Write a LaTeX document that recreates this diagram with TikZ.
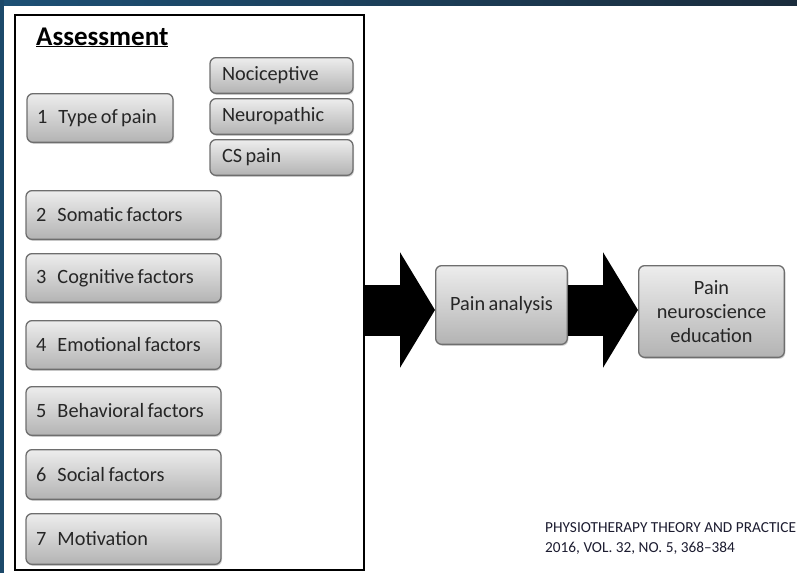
\documentclass[tikz,border=0pt]{standalone}
\usepackage{fontspec}
\setmainfont{Carlito}
\usetikzlibrary{positioning, shadows, arrows.meta}

\definecolor{barnavy}{HTML}{1D5075}
\definecolor{bardark}{HTML}{1A2C3C}
\definecolor{boxtop}{HTML}{EDEDED}
\definecolor{boxbot}{HTML}{B3B3B3}
\definecolor{boxline}{HTML}{6E6E6E}
\definecolor{foottext}{HTML}{1C1C30}

\newcommand{\numgap}{\hspace{0.55em}}
\newcommand{\tightwords}{\spaceskip=0.17em\relax}

\tikzset{
  pbox/.style={draw=boxline, line width=1.3pt, rounded corners=6pt,
    top color=boxtop, bottom color=boxbot, text=black!85,
    drop shadow={shadow xshift=1pt, shadow yshift=-1.5pt, opacity=0.35},
    font=\fontsize{20.3}{24}\selectfont, align=flush left, inner xsep=10pt,
    execute at begin node=\tightwords},
  factor/.style={pbox, text width=175pt, minimum height=48.7pt},
  subtype/.style={pbox, text width=119pt, minimum height=35.7pt, inner xsep=12pt},
  bigarrow/.style={line width=51pt, -{Triangle[width=114pt,length=35pt]}}
}

\begin{document}
\begin{tikzpicture}[x=1pt,y=-1pt]
    \useasboundingbox (0,0) rectangle (797,573);
    \fill[left color=barnavy, right color=bardark] (0,0) rectangle (797,5);
    \fill[barnavy!80!bardark] (0,0) rectangle (4,573);

    \node (frame) [draw, line width=2pt, minimum width=349pt, minimum height=555pt] at (189.5,292.5) {};
    \node (title) [anchor=base west, inner sep=0pt, font=\fontsize{27}{30}\selectfont\bfseries] at (36,45) {\underline{Assessment}};

    \node (typepain) [pbox, text width=126pt, minimum height=48.7pt] at (100,118) {\mbox{1\numgap Type of pain}};
    \node (noci) [subtype] at (281.5,75.5) {Nociceptive};
    \node (neuro) [below=4pt of noci, subtype] {Neuropathic};
    \node (cspain) [below=4pt of neuro, subtype] {CS pain};

    \node (somatic) [factor, below=47pt of typepain.south west, anchor=north west, xshift=-1pt] {2\numgap Somatic factors};
    \node (cognitive) [below=13pt of somatic, factor] {3\numgap Cognitive factors};
    \node (emotional) [below=17pt of cognitive, factor] {4\numgap Emotional factors};
    \node (behavioral) [below=16pt of emotional, factor] {5\numgap Behavioral factors};
    \node (social) [below=13pt of behavioral, factor, minimum height=49.7pt] {6\numgap Social factors};
    \node (motivation) [below=13pt of social, factor, minimum height=50.7pt] {7\numgap Motivation};

    \node (analysis) [pbox, align=center, minimum width=131.7pt, minimum height=78.7pt] at (501.5,305) {Pain analysis};
    \node (education) [pbox, align=center, minimum width=145.7pt, minimum height=91.7pt] at (711.5,311.5) {Pain\\neuroscience\\education};

    \draw[bigarrow] (frame.east |- 0,310) -- ([yshift=-5pt]analysis.west);
    \draw[bigarrow] ([yshift=-5pt]analysis.east) -- ([yshift=1.5pt]education.west);

    \node (journal) [anchor=base west, inner sep=0pt, align=left, text=foottext,
      font=\fontsize{15.3}{19.5}\selectfont] at (545,552) {PHYSIOTHERAPY THEORY AND PRACTICE\\2016, VOL. 32, NO. 5, 368--384};
\end{tikzpicture}
\end{document}
